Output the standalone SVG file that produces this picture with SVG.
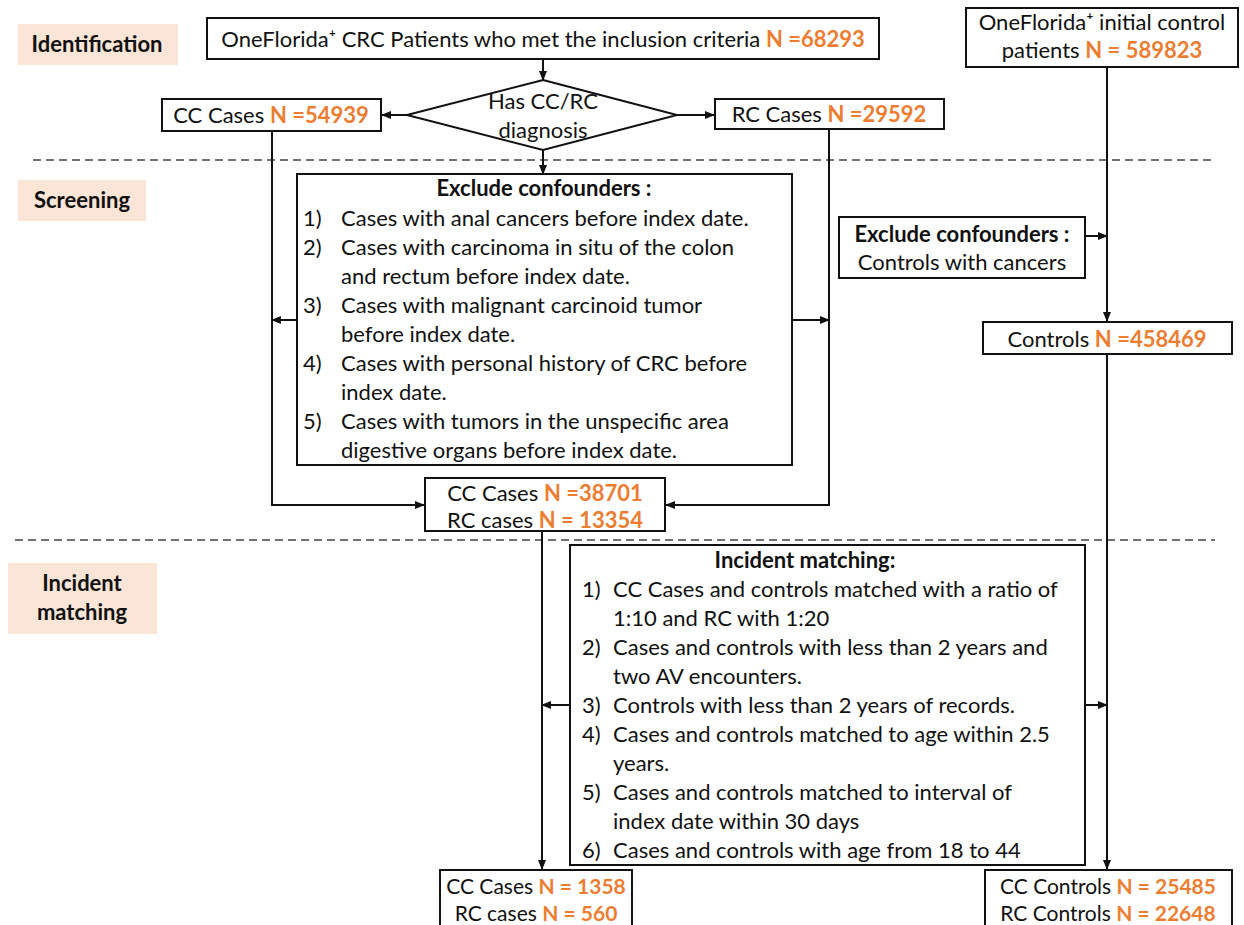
<svg xmlns="http://www.w3.org/2000/svg" width="1244" height="925" viewBox="0 0 1244 925">
<style>
text{font-family:Lato,"Open Sans","Liberation Sans",sans-serif;font-size:22px;fill:#111}
.b{font-weight:bold}
.o{fill:#ED7D31;font-weight:bold}
.c{text-anchor:middle}
.s{font-size:21px}
.box{fill:#fff;stroke:#111;stroke-width:2}
.lab{fill:#FBE5D6}
.ln{fill:none;stroke:#111;stroke-width:2}
.dash{fill:none;stroke:#444;stroke-width:1.6;stroke-dasharray:8 5}
</style>
<defs>
<marker id="ah" markerWidth="10" markerHeight="10" refX="9" refY="5" orient="auto" markerUnits="userSpaceOnUse">
<path d="M0,1 L10,5 L0,9 Z" fill="#111"/>
</marker>
</defs>
<rect width="1244" height="925" fill="#fff"/>

<g id="separators">
<line class="dash" x1="33" y1="160" x2="1215" y2="160"/>
<line class="dash" x1="15" y1="540" x2="1215" y2="540"/>
</g>

<g id="label-identification"><rect class="lab" x="18" y="24" width="160" height="41"/><text class="b c" x="97" y="52">Identification</text></g>
<g id="label-screening"><rect class="lab" x="18" y="180" width="128" height="41"/><text class="b c" x="82" y="208">Screening</text></g>
<g id="label-incident"><rect class="lab" x="8" y="563" width="149" height="71"/><text class="b c" x="82" y="591">Incident</text><text class="b c" x="82" y="620">matching</text></g>

<g id="connectors">
<line class="ln" x1="543" y1="59" x2="543" y2="80" marker-end="url(#ah)"/>
<line class="ln" x1="407" y1="115" x2="382" y2="115" marker-end="url(#ah)"/>
<line class="ln" x1="677" y1="115" x2="714" y2="115" marker-end="url(#ah)"/>
<line class="ln" x1="543" y1="150" x2="543" y2="174" marker-end="url(#ah)"/>
<polyline class="ln" points="272,131 272,505 424,505" marker-end="url(#ah)"/>
<polyline class="ln" points="829,129 829,505 666,505" marker-end="url(#ah)"/>
<line class="ln" x1="297" y1="320" x2="272" y2="320" marker-end="url(#ah)"/>
<line class="ln" x1="792" y1="320" x2="829" y2="320" marker-end="url(#ah)"/>
<line class="ln" x1="1107" y1="67" x2="1107" y2="321" marker-end="url(#ah)"/>
<line class="ln" x1="1085" y1="236" x2="1107" y2="236" marker-end="url(#ah)"/>
<line class="ln" x1="542" y1="531" x2="542" y2="869" marker-end="url(#ah)"/>
<line class="ln" x1="1107" y1="354" x2="1107" y2="869" marker-end="url(#ah)"/>
<line class="ln" x1="570" y1="705" x2="542" y2="705" marker-end="url(#ah)"/>
<line class="ln" x1="1085" y1="705" x2="1107" y2="705" marker-end="url(#ah)"/>
</g>

<g id="node-crc-patients">
<rect class="box" x="207" y="18" width="672" height="41"/>
<text class="c" x="543" y="47">OneFlorida⁺ CRC Patients who met the inclusion criteria <tspan class="o">N =68293</tspan></text>
</g>
<g id="node-diamond">
<polygon class="box" points="543,80 677,115 543,150 407,115"/>
<text class="c" x="543" y="109">Has CC/RC</text>
<text class="c" x="543" y="138">diagnosis</text>
</g>
<g id="node-cc-cases">
<rect class="box" x="162" y="99" width="219" height="32"/>
<text class="c" x="271" y="123">CC Cases <tspan class="o">N =54939</tspan></text>
</g>
<g id="node-rc-cases">
<rect class="box" x="715" y="99" width="229" height="30"/>
<text class="c" x="829" y="122">RC Cases <tspan class="o">N =29592</tspan></text>
</g>
<g id="node-control-initial">
<rect class="box" x="966" y="8" width="272" height="59"/>
<text class="c" x="1102" y="30">OneFlorida⁺ initial control</text>
<text class="c" x="1102" y="58">patients <tspan class="o">N = 589823</tspan></text>
</g>
<g id="node-exclude-cases">
<rect class="box" x="297" y="174" width="495" height="291"/>
<text class="b c" x="544" y="196">Exclude confounders :</text>
<text x="303" y="226">1)</text><text x="341" y="226">Cases with anal cancers before index date.</text>
<text x="303" y="255">2)</text><text x="341" y="255">Cases with carcinoma in situ of the colon</text>
<text x="341" y="284">and rectum before index date.</text>
<text x="303" y="313">3)</text><text x="341" y="313">Cases with malignant carcinoid tumor</text>
<text x="341" y="342">before index date.</text>
<text x="303" y="371">4)</text><text x="341" y="371">Cases with personal history of CRC before</text>
<text x="341" y="400">index date.</text>
<text x="303" y="429">5)</text><text x="341" y="429">Cases with tumors in the unspecific area</text>
<text x="341" y="458">digestive organs before index date.</text>
</g>
<g id="node-exclude-controls">
<rect class="box" x="839" y="217" width="246" height="61"/>
<text class="b c" x="962" y="242">Exclude confounders :</text>
<text class="c" x="962" y="270">Controls with cancers</text>
</g>
<g id="node-controls">
<rect class="box" x="983" y="322" width="249" height="32"/>
<text class="c" x="1107" y="347">Controls <tspan class="o">N =458469</tspan></text>
</g>
<g id="node-cases-screened">
<rect class="box" x="425" y="478" width="240" height="53"/>
<text class="c" x="545" y="501">CC Cases <tspan class="o">N =38701</tspan></text>
<text class="c" x="545" y="528">RC cases <tspan class="o">N = 13354</tspan></text>
</g>
<g id="node-incident-matching">
<rect class="box" x="570" y="545" width="515" height="320"/>
<text class="b c" x="805" y="568">Incident matching:</text>
<text x="582" y="597">1)</text><text x="613" y="597">CC Cases and controls matched with a ratio of</text>
<text x="613" y="626">1:10 and RC with 1:20</text>
<text x="582" y="655">2)</text><text x="613" y="655">Cases and controls with less than 2 years and</text>
<text x="613" y="684">two AV encounters.</text>
<text x="582" y="713">3)</text><text x="613" y="713">Controls with less than 2 years of records.</text>
<text x="582" y="742">4)</text><text x="613" y="742">Cases and controls matched to age within 2.5</text>
<text x="613" y="771">years.</text>
<text x="582" y="800">5)</text><text x="613" y="800">Cases and controls matched to interval of</text>
<text x="613" y="829">index date within 30 days</text>
<text x="582" y="858">6)</text><text x="613" y="858">Cases and controls with age from 18 to 44</text>
</g>
<g id="node-final-cases">
<rect class="box" x="440" y="870" width="192" height="62"/>
<text class="c s" x="536" y="894">CC Cases <tspan class="o">N = 1358</tspan></text>
<text class="c s" x="536" y="921">RC cases <tspan class="o">N = 560</tspan></text>
</g>
<g id="node-final-controls">
<rect class="box" x="985" y="870" width="247" height="62"/>
<text class="c s" x="1108" y="894">CC Controls <tspan class="o">N = 25485</tspan></text>
<text class="c s" x="1108" y="921">RC Controls <tspan class="o">N = 22648</tspan></text>
</g>
</svg>
